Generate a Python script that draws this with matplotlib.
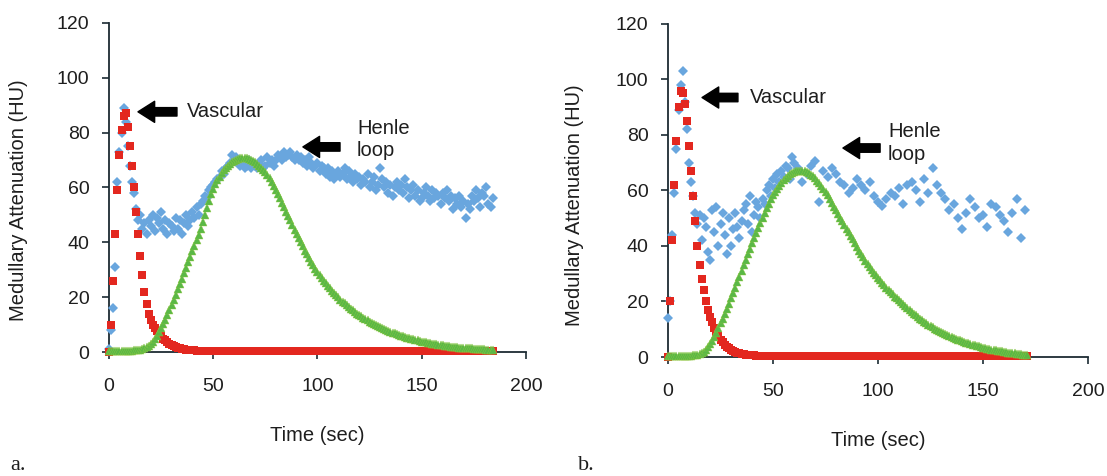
import numpy as np
import matplotlib
matplotlib.use("Agg")
import matplotlib.pyplot as plt

plt.rcParams['font.family'] = ['Liberation Sans', 'DejaVu Sans']

# ---------------- Panel a data (1-s sampling, t = 0, 1, 2, ...) ----------------
red_a = [
    0, 10, 26, 43, 59, 72, 81, 86, 87, 82,
    75, 68, 60, 51, 43, 35, 28, 22, 17.5, 14,
    11.5, 10, 8.7, 7.6, 6.6, 5.7, 4.9, 4.2, 3.6, 3.0,
    2.5, 2.1, 1.8, 1.5, 1.3, 1.1, 0.95, 0.85, 0.75, 0.65,
    0.6, 0.55, 0.5, 0.5, 0.45, 0.45, 0.4, 0.4, 0.4, 0.4,
    0.35, 0.35, 0.35, 0.35, 0.35, 0.35, 0.35, 0.35, 0.35, 0.35,
    0.35, 0.35, 0.35, 0.35, 0.35, 0.35, 0.35, 0.35, 0.35, 0.35,
    0.3, 0.3, 0.3, 0.3, 0.3, 0.3, 0.3, 0.3, 0.3, 0.3,
    0.3, 0.3, 0.3, 0.3, 0.3, 0.3, 0.3, 0.3, 0.3, 0.3,
    0.3, 0.3, 0.3, 0.3, 0.3, 0.3, 0.3, 0.3, 0.3, 0.3,
    0.3, 0.3, 0.3, 0.3, 0.3, 0.3, 0.3, 0.3, 0.3, 0.3,
    0.3, 0.3, 0.3, 0.3, 0.3, 0.3, 0.3, 0.3, 0.3, 0.3,
    0.3, 0.3, 0.3, 0.3, 0.3, 0.3, 0.3, 0.3, 0.3, 0.3,
    0.3, 0.3, 0.3, 0.3, 0.3, 0.3, 0.3, 0.3, 0.3, 0.3,
    0.3, 0.3, 0.3, 0.3, 0.3, 0.3, 0.3, 0.3, 0.3, 0.3,
    0.3, 0.3, 0.3, 0.3, 0.3, 0.3, 0.3, 0.3, 0.3, 0.3,
    0.3, 0.3, 0.3, 0.3, 0.3, 0.3, 0.3, 0.3, 0.3, 0.3,
    0.3, 0.3, 0.3, 0.3, 0.3, 0.3, 0.3, 0.3, 0.3, 0.3,
    0.3, 0.3, 0.3, 0.3, 0.3,
]

green_a = [
    0.5, 0.5, 0.5, 0.5, 0.5, 0.5, 0.5, 0.5, 0.5, 0.5,
    0.5, 0.5, 0.6, 0.6, 0.7, 0.8, 1.0, 1.3, 1.7, 2.2,
    2.9, 3.8, 4.8, 6.0, 7.3, 8.7, 10.2, 11.8, 13.5, 15.2,
    17.0, 18.9, 20.8, 22.8, 24.8, 26.8, 28.8, 30.8, 32.8, 34.8,
    36.8, 38.8, 40.8, 42.8, 45.0, 47.5, 50.0, 52.5, 55.0, 57.5,
    59.5, 61.2, 62.7, 64.0, 65.2, 66.2, 67.1, 67.9, 68.6, 69.2,
    69.7, 70.1, 70.4, 70.6, 70.7, 70.7, 70.6, 70.4, 70.1, 69.7,
    69.2, 68.6, 67.9, 67.1, 66.3, 65.5, 64.5, 63.3, 62.0, 60.5,
    59.0, 57.5, 56.0, 54.4, 52.8, 51.2, 49.6, 48.0, 46.3, 44.6,
    43.0, 41.5, 40.0, 38.5, 37.0, 35.6, 34.2, 32.9, 31.6, 30.4,
    29.2, 28.1, 27.0, 26.0, 25.0, 24.1, 23.2, 22.3, 21.5, 20.7,
    19.9, 19.1, 18.4, 17.7, 17.0, 16.4, 15.8, 15.2, 14.6, 14.0,
    13.5, 13.0, 12.5, 12.0, 11.5, 11.0, 10.6, 10.2, 9.8, 9.4,
    9.0, 8.6, 8.3, 8.0, 7.7, 7.4, 7.1, 6.8, 6.5, 6.2,
    5.9, 5.7, 5.4, 5.2, 5.0, 4.8, 4.6, 4.4, 4.2, 4.0,
    3.8, 3.6, 3.5, 3.3, 3.2, 3.0, 2.9, 2.8, 2.6, 2.5,
    2.4, 2.3, 2.2, 2.1, 2.0, 1.9, 1.8, 1.7, 1.6, 1.6,
    1.5, 1.4, 1.4, 1.3, 1.3, 1.2, 1.2, 1.1, 1.1, 1.0,
    1.0, 0.9, 0.9, 0.9, 0.8,
]

blue_a = [
    1, 8, 16, 31, 62, 73, 80, 89, 84, 75,
    68, 62, 58, 52, 48, 50, 45, 47, 43, 48,
    46, 50, 44, 49, 47, 51, 45, 48, 43, 47,
    46, 44, 49, 45, 48, 43, 47, 50, 46, 48,
    51, 49, 53, 50, 54, 55, 57, 56, 59, 60,
    61, 62, 63, 64, 66, 65, 67, 68, 69, 72,
    70, 71, 69, 68, 69, 67, 68, 70, 67, 69,
    68, 67, 69, 70, 67, 68, 71, 69, 70, 68,
    70, 72, 71, 70, 73, 71, 72, 73, 71, 70,
    72, 70, 71, 69, 70, 68, 71, 69, 67, 68,
    69, 66, 68, 67, 65, 67, 64, 66, 63, 65,
    66, 64, 65, 67, 63, 66, 64, 62, 65, 63,
    64, 61, 63, 62, 65, 60, 62, 64, 59, 61,
    67, 63, 60, 62, 58, 61, 57, 60, 62, 59,
    61, 58, 63, 60, 56, 59, 61, 57, 59, 55,
    56, 58, 60, 57, 55, 59, 56, 58, 57, 54,
    58, 56, 59, 55, 57, 52, 56, 54, 57, 53,
    55, 49, 54, 52, 57, 55, 59, 56, 53, 58,
    57, 60, 54, 53, 56,
]

# ---------------- Panel b data ----------------
red_b = [
    0, 20, 42, 62, 78, 90, 96, 95, 91, 85,
    76, 67, 58, 49, 40, 33, 28, 24, 20, 17,
    14.5, 12.5, 10.5, 9, 7.5, 6.3, 5.3, 4.4, 3.7, 3.1,
    2.6, 2.2, 1.8, 1.5, 1.3, 1.1, 0.95, 0.85, 0.75, 0.65,
    0.6, 0.55, 0.5, 0.5, 0.45, 0.45, 0.4, 0.4, 0.4, 0.4,
    0.35, 0.35, 0.35, 0.35, 0.35, 0.35, 0.35, 0.35, 0.35, 0.35,
    0.35, 0.35, 0.35, 0.35, 0.35, 0.35, 0.35, 0.35, 0.35, 0.35,
    0.3, 0.3, 0.3, 0.3, 0.3, 0.3, 0.3, 0.3, 0.3, 0.3,
    0.3, 0.3, 0.3, 0.3, 0.3, 0.3, 0.3, 0.3, 0.3, 0.3,
    0.3, 0.3, 0.3, 0.3, 0.3, 0.3, 0.3, 0.3, 0.3, 0.3,
    0.3, 0.3, 0.3, 0.3, 0.3, 0.3, 0.3, 0.3, 0.3, 0.3,
    0.3, 0.3, 0.3, 0.3, 0.3, 0.3, 0.3, 0.3, 0.3, 0.3,
    0.3, 0.3, 0.3, 0.3, 0.3, 0.3, 0.3, 0.3, 0.3, 0.3,
    0.3, 0.3, 0.3, 0.3, 0.3, 0.3, 0.3, 0.3, 0.3, 0.3,
    0.3, 0.3, 0.3, 0.3, 0.3, 0.3, 0.3, 0.3, 0.3, 0.3,
    0.3, 0.3, 0.3, 0.3, 0.3, 0.3, 0.3, 0.3, 0.3, 0.3,
    0.3, 0.3, 0.3, 0.3, 0.3, 0.3, 0.3, 0.3, 0.3, 0.3,
    0.3, 0.3,
]

green_b = [
    0.5, 0.5, 0.5, 0.5, 0.5, 0.5, 0.5, 0.5, 0.5, 0.5,
    0.5, 0.5, 0.6, 0.7, 0.8, 1.0, 1.4, 1.9, 2.6, 3.5,
    4.6, 5.9, 7.3, 8.8, 10.4, 12.1, 13.8, 15.5, 17.3, 19.2,
    21.1, 23.0, 25.0, 27.0, 29.0, 31.0, 33.0, 35.0, 37.0, 39.0,
    41.0, 42.9, 44.8, 46.6, 48.4, 50.2, 52.0, 53.7, 55.3, 56.8,
    58.2, 59.5, 60.7, 61.8, 62.8, 63.7, 64.5, 65.2, 65.8, 66.3,
    66.7, 67.0, 67.2, 67.2, 67.1, 66.9, 66.6, 66.2, 65.7, 65.1,
    64.4, 63.6, 62.7, 61.7, 60.6, 59.4, 58.2, 56.9, 55.6, 54.2,
    52.8, 51.5, 50.2, 48.9, 47.6, 46.3, 45.0, 43.7, 42.4, 41.0,
    39.5, 38.3, 37.1, 35.9, 34.7, 33.6, 32.5, 31.4, 30.4, 29.4,
    28.5, 27.6, 26.7, 25.8, 25.0, 24.2, 23.4, 22.6, 21.8, 21.1,
    20.4, 19.7, 19.0, 18.3, 17.6, 16.9, 16.2, 15.6, 15.0, 14.4,
    13.8, 13.2, 12.7, 12.2, 11.7, 11.2, 10.7, 10.2, 9.8, 9.4,
    9.0, 8.6, 8.2, 7.8, 7.5, 7.2, 6.9, 6.6, 6.3, 6.0,
    5.7, 5.4, 5.1, 4.9, 4.6, 4.4, 4.2, 4.0, 3.8, 3.6,
    3.4, 3.2, 3.0, 2.8, 2.7, 2.5, 2.4, 2.2, 2.1, 2.0,
    1.8, 1.7, 1.6, 1.5, 1.4, 1.3, 1.2, 1.1, 1.0, 0.9,
    0.8, 0.7,
]

blue_b_time = list(range(0, 60)) + list(range(60, 171, 2))
blue_b = [
    14, 20, 44, 59, 75, 89, 98, 103, 92, 82,
    70, 63, 58, 52, 48,
    51, 42, 50, 47, 38, 35, 53, 45, 54, 40,
    48, 52, 44, 37, 50, 40, 46, 52, 47, 43,
    49, 53, 55, 48, 58, 45, 51, 56, 54, 50,
    57, 55, 60, 62, 58, 64, 61, 66, 63, 67,
    65, 69, 68, 64, 72,
    70, 68, 63, 66, 69, 70.5, 56, 67, 65, 68,
    66, 63, 62, 59, 61, 64, 62, 60, 63, 58,
    56, 54.5, 57, 59, 58, 61, 55, 62, 63, 60,
    56, 64, 59, 68, 62, 59, 57, 53, 55, 50,
    46, 52, 57, 54, 50, 51, 47, 55, 54, 51,
    49, 45, 52, 57, 43, 53,
]

x_ticks = [0, 50, 100, 150, 200]
y_ticks = [0, 20, 40, 60, 80, 100, 120]
x_label = "Time (sec)"
y_label = "Medullary Attenuation (HU)"

BLUE = "#69A6DE"
RED = "#E3271F"
GREEN = "#5AB846"
SPINE = "#1c2b33"
TXT = "#1e1e1e"

fig = plt.figure(figsize=(11.07, 4.76), dpi=100)
ax_a = fig.add_axes([0.09846, 0.2605, 0.3767, 0.6912])
ax_b = fig.add_axes([0.60344, 0.2500, 0.3794, 0.6996])


def style(ax, ylab_xy):
    ax.set_xlim(0, 200)
    ax.set_ylim(0, 120)
    ax.set_xticks(x_ticks)
    ax.set_yticks(y_ticks)
    for s in ("top", "right"):
        ax.spines[s].set_visible(False)
    for s in ("left", "bottom"):
        ax.spines[s].set_color(SPINE)
        ax.spines[s].set_linewidth(1.3)
    ax.tick_params(axis="both", direction="out", length=5, width=1.2,
                   colors=SPINE, labelcolor=TXT, labelsize=14)
    ax.tick_params(axis="x", pad=14)
    ax.tick_params(axis="y", pad=9)
    ax.set_xlabel(x_label, fontsize=14.5, color=TXT, labelpad=22)
    ax.set_ylabel(y_label, fontsize=14.5, color=TXT)
    ax.yaxis.set_label_coords(*ylab_xy)


def draw(ax, tb, blue, tr, red, tg, green):
    ax.plot(tb, blue, linestyle="none", marker="D", markersize=5.6,
            color=BLUE, markeredgewidth=0, clip_on=False, zorder=3)
    ax.plot(tr, red, linestyle="none", marker="s", markersize=5.6,
            color=RED, markeredgewidth=0, clip_on=False, zorder=4)
    ax.plot(tg, green, linestyle="none", marker="^", markersize=6.0,
            color=GREEN, markeredgewidth=0.3, markeredgecolor="#8cc63f",
            clip_on=False, zorder=5)


def arrow(ax, head, tail):
    ax.annotate("", xy=head, xytext=tail, xycoords="data",
                arrowprops=dict(arrowstyle="simple,head_length=0.75,head_width=0.95,tail_width=0.38",
                                color="black", shrinkA=0, shrinkB=0, mutation_scale=16),
                zorder=6, annotation_clip=False)


# panel a
draw(ax_a, np.arange(len(blue_a)), blue_a, np.arange(len(red_a)), red_a,
     np.arange(len(green_a)), green_a)
style(ax_a, (-0.195, 0.46))
arrow(ax_a, (13.9, 87.6), (32.6, 87.6))
ax_a.text(37.4, 87.6, "Vascular", fontsize=14.5, color=TXT, va="center", ha="left")
arrow(ax_a, (93, 74.8), (110.8, 74.8))
ax_a.text(119, 77.5, "Henle\nloop", fontsize=14.5, color=TXT, va="center", ha="left",
          linespacing=1.25)

# panel b
n = min(len(blue_b_time), len(blue_b))
draw(ax_b, blue_b_time[:n], blue_b[:n], np.arange(len(red_b)), red_b,
     np.arange(len(green_b)), green_b)
style(ax_b, (-0.2, 0.456))
arrow(ax_b, (16.2, 93.5), (33.3, 93.5))
ax_b.text(39, 93.5, "Vascular", fontsize=14.5, color=TXT, va="center", ha="left")
arrow(ax_b, (83.3, 75.3), (101, 75.3))
ax_b.text(104.8, 77, "Henle\nloop", fontsize=14.5, color=TXT, va="center", ha="left",
          linespacing=1.25)

fig.text(10 / 1107, 1 - 465 / 476, "a.", family=["Liberation Serif", "DejaVu Serif"],
         fontsize=16, color=TXT, va="center", ha="left")
fig.text(578 / 1107, 1 - 465 / 476, "b.", family=["Liberation Serif", "DejaVu Serif"],
         fontsize=16, color=TXT, va="center", ha="left")

fig.savefig("out.png", dpi=100)
